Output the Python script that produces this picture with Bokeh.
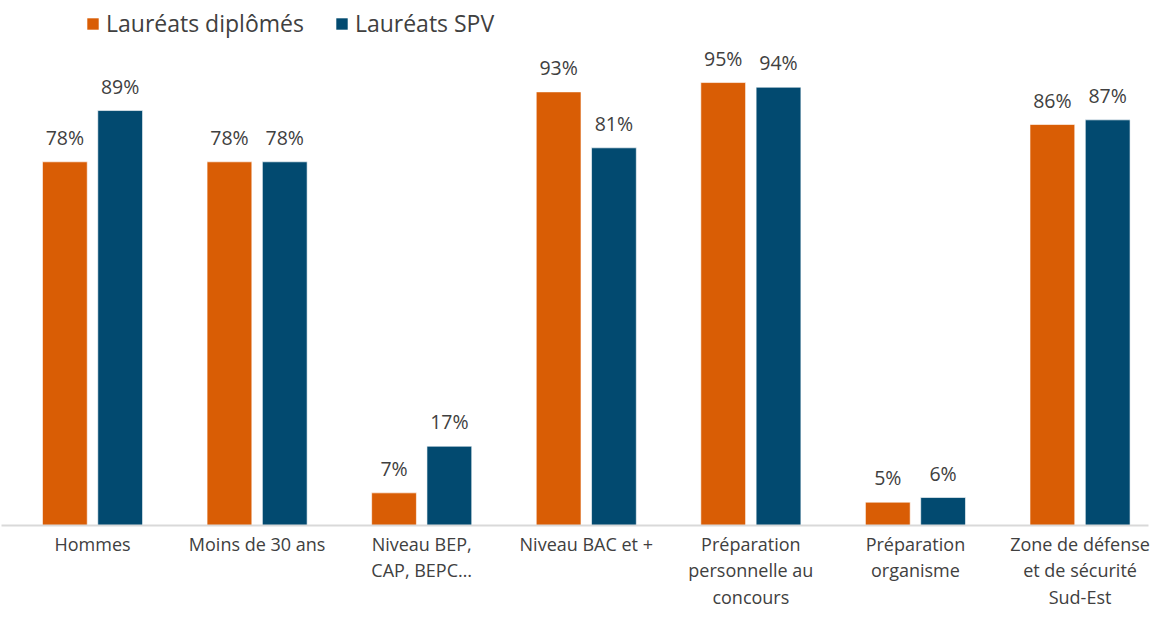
from bokeh.plotting import figure
from bokeh.models import ColumnDataSource, Range1d, FixedTicker, Legend, LegendItem, LabelSet
from bokeh.core.properties import value
from bokeh.embed import file_html
from bokeh.resources import INLINE

categories = ["Hommes", "Moins de 30 ans", "Niveau BEP,\nCAP, BEPC…", "Niveau BAC et +",
              "Préparation\npersonnelle au\nconcours", "Préparation\norganisme",
              "Zone de défense\net de sécurité\nSud-Est"]
diplomes = [78, 78, 7, 93, 95, 5, 86]
spv = [89, 78, 17, 81, 94, 6, 87]
series_names = ["Lauréats diplômés", "Lauréats SPV"]

ORANGE = "#D95D05"
BLUE = "#024A70"
FONT = "Open Sans"
TXT = "#404040"

idx = list(range(len(categories)))
off = 0.168
bw = 0.272

src1 = ColumnDataSource(dict(x=[i - off for i in idx], top=diplomes,
                             lab=[f"{v}%" for v in diplomes]))
src2 = ColumnDataSource(dict(x=[i + off for i in idx], top=spv,
                             lab=[f"{v}%" for v in spv]))

p = figure(width=1154, height=612, output_backend="svg", toolbar_location=None,
           x_range=Range1d(-0.553, 6.416), y_range=Range1d(0, 112.6),
           min_border_left=1, min_border_right=6, min_border_top=0, min_border_bottom=80)
p.outline_line_color = None
p.grid.visible = False
p.yaxis.visible = False

r1 = p.vbar(x="x", top="top", width=bw, source=src1, fill_color=ORANGE, line_color="white", line_width=0.6)
r2 = p.vbar(x="x", top="top", width=bw, source=src2, fill_color=BLUE, line_color="white", line_width=0.6)

for s in (src1, src2):
    p.add_layout(LabelSet(x="x", y="top", text="lab", source=s, text_align="center",
                          text_baseline="bottom", y_offset=11, text_font=value(FONT),
                          text_font_size=value("19.5px"), text_color=value(TXT)))

ax = p.xaxis[0]
ax.ticker = FixedTicker(ticks=idx)
ax.major_label_overrides = {i: c for i, c in enumerate(categories)}
ax.major_tick_line_color = None
ax.minor_tick_line_color = None
ax.axis_line_color = "#D9D9D9"
ax.axis_line_width = 2
ax.major_label_text_font = FONT
ax.major_label_text_font_size = "18px"
ax.major_label_text_color = TXT
ax.major_label_standoff = 0
ax.major_label_text_line_height = 1.12

legend = Legend(items=[LegendItem(label=series_names[0], renderers=[r1]),
                       LegendItem(label=series_names[1], renderers=[r2])],
                orientation="horizontal", location=(84, 486))
legend.border_line_color = None
legend.background_fill_alpha = 0
legend.label_text_font = FONT
legend.label_text_font_size = "23px"
legend.label_text_color = TXT
legend.glyph_width = 15
legend.glyph_height = 15
legend.spacing = 30
legend.padding = 4
legend.margin = 0
legend.label_standoff = 6
p.add_layout(legend, "center")

open("out.html", "w").write(file_html(p, INLINE))
